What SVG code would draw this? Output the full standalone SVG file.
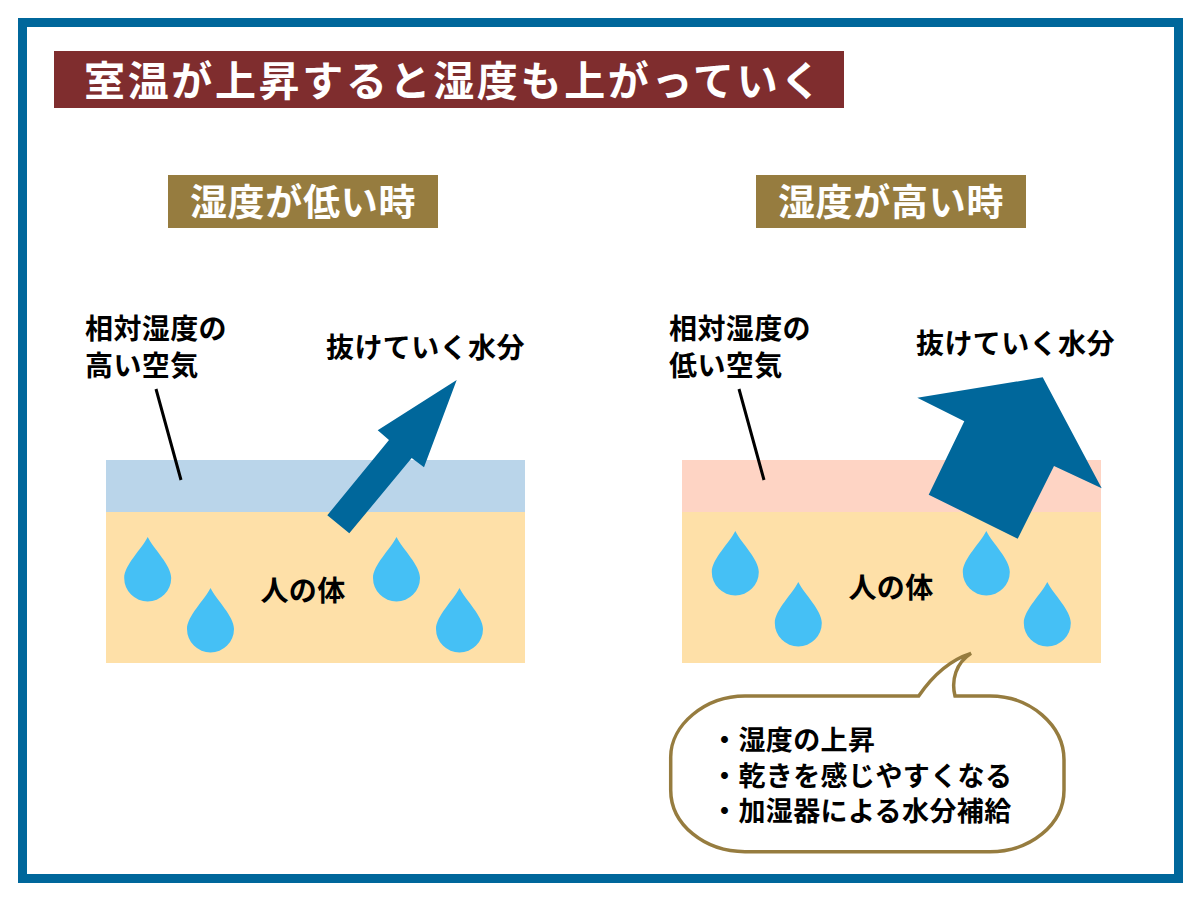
<svg xmlns="http://www.w3.org/2000/svg" width="1200" height="900" viewBox="0 0 1200 900">
<style>
text{font-family:"Noto Sans CJK JP","Noto Sans",sans-serif;font-weight:700;fill:#000}
.h{fill:#fff;text-anchor:middle}
.t1{font-size:41px;letter-spacing:2.650px}
.t2{font-size:37px;letter-spacing:.7px}
.l{font-size:28px;letter-spacing:.4px}
.b{font-size:27px;letter-spacing:.4px}
.drop{fill:#45c0f5}
.lead{stroke:#000;stroke-width:3;fill:none}
.arrow{fill:#00679b}
.tan{fill:#967c3f}
</style>
<defs><path id="d" d="M0 0C6 12 23.500 28 23.500 41A23.500 23.500 0 0 1-23.500 41C-23.500 28-6 12 0 0Z"/></defs>
<rect id="frame" x="22.500" y="22.500" width="1156" height="856" fill="#fff" stroke="#00679b" stroke-width="9"/>
<g id="title"><rect x="54" y="51" width="790" height="57" fill="#7f2d2e"/><text class="h t1" x="454" y="96">室温が上昇すると湿度も上がっていく</text></g>
<g id="head-low"><rect class="tan" x="168" y="175" width="270" height="53"/><text class="h t2" x="303" y="216">湿度が低い時</text></g>
<g id="head-high"><rect class="tan" x="756" y="175" width="270" height="53"/><text class="h t2" x="891" y="216">湿度が高い時</text></g>
<g id="skin-low"><rect x="106" y="460" width="419" height="52" fill="#bad5ea"/><rect x="106" y="512" width="419" height="151" fill="#fee0a8"/><text class="l" x="303" y="601" style="text-anchor:middle">人の体</text>
<g class="drop"><use href="#d" x="147.700" y="537"/><use href="#d" x="210.500" y="588"/><use href="#d" x="396.500" y="537"/><use href="#d" x="459.500" y="588"/></g></g>
<g id="skin-high"><rect x="682" y="460" width="419" height="52" fill="#fed4c4"/><rect x="682" y="512" width="419" height="151" fill="#fee0a8"/><text class="l" x="891" y="598" style="text-anchor:middle">人の体</text>
<g class="drop"><use href="#d" x="735.300" y="531"/><use href="#d" x="798.300" y="582"/><use href="#d" x="986.300" y="531"/><use href="#d" x="1047.300" y="582"/></g></g>
<g id="label-low"><text class="l" x="85" y="339">相対湿度の</text><text class="l" x="85" y="376">高い空気</text></g>
<g id="label-high"><text class="l" x="669" y="339">相対湿度の</text><text class="l" x="669" y="376">低い空気</text></g>
<g id="out-low"><text class="l" x="326" y="358">抜けていく水分</text></g>
<g id="out-high"><text class="l" x="916" y="354">抜けていく水分</text></g>
<g id="connectors">
<path class="lead" d="M156 389L181 480M739 389L764 480"/>
<polygon class="arrow" points="456.700,380 424,467.300 411.700,458 349.300,533.300 327.300,515.300 389,440 377.700,430.300"/>
<polygon class="arrow" points="917.300,397.700 1042.700,377.300 1101.700,488.300 1054,466 1017.700,538.700 928.700,494.700 964.300,421.300"/>
</g>
<g id="bubble"><path d="M745 696H918.700C933 675 950 660 971 653.300C956 663 951 680 955 696H990C1030 696 1064 725 1064 760V790C1064 825 1030 851.700 990 851.700H745C705 851.700 670.700 825 670.700 790V757C670.700 725 705 696 745 696Z" fill="#fff" stroke="#967c3f" stroke-width="3.500"/>
<text class="b" x="711" y="750">・湿度の上昇</text><text class="b" x="711" y="785.500">・乾きを感じやすくなる</text><text class="b" x="711" y="821">・加湿器による水分補給</text></g>
</svg>
